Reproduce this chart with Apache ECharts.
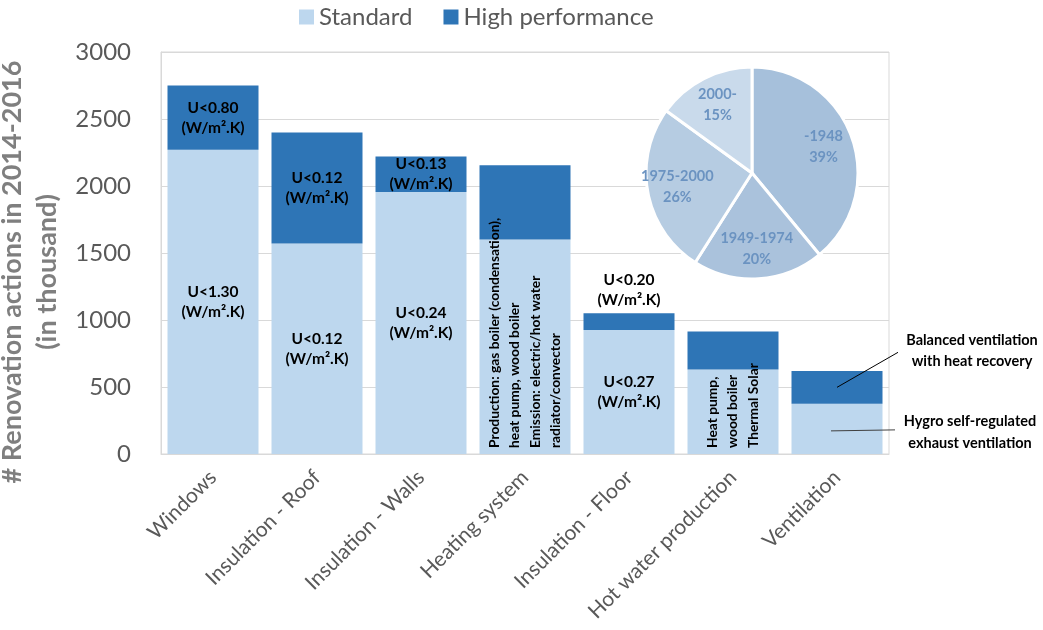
<!DOCTYPE html>
<html>
<head>
<meta charset="utf-8">
<script src="https://cdn.jsdelivr.net/npm/echarts@6/dist/echarts.min.js"></script>
<style>
  html, body { margin: 0; padding: 0; background: #fff; }
  #chart { width: 1043px; height: 630px; }
</style>
</head>
<body>
<div id="chart"></div>
<script>
// Data
const categories = ['Windows', 'Insulation - Roof', 'Insulation - Walls', 'Heating system',
    'Insulation - Floor', 'Hot water production', 'Ventilation'];
const standardValues = [2270, 1570, 1955, 1600, 925, 630, 375];
const highValues = [480, 830, 265, 555, 125, 285, 245];
const standardNotes = ['U<1.30\n(W/m².K)', 'U<0.12\n(W/m².K)', 'U<0.24\n(W/m².K)',
    'Production: gas boiler (condensation),\nheat pump, wood boiler\nEmission: electric/hot water\nradiator/convector',
    'U<0.27\n(W/m².K)', 'Heat pump,\nwood boiler\nThermal Solar', 'Hygro self-regulated\nexhaust ventilation'];
const highNotes = ['U<0.80\n(W/m².K)', 'U<0.12\n(W/m².K)', 'U<0.13\n(W/m².K)', '',
    'U<0.20\n(W/m².K)', '', 'Balanced ventilation\nwith heat recovery'];
const periodNames = ['-1948', '1949-1974', '1975-2000', '2000-'];
const periodShares = [39, 20, 26, 15];

const FONT = 'Lato';
const noteStyle = { fontFamily: FONT, fontWeight: 'bold', fontSize: 15.5, color: '#000', lineHeight: 20 };

// notes written vertically from the bar bottom
const verticalNote = {
    position: 'insideBottom', rotate: 90, align: 'left', verticalAlign: 'middle',
    distance: 6, lineHeight: 20.5, fontSize: 13.8
};

const standardData = standardValues.map((v, i) => {
    let label = { show: true, formatter: standardNotes[i] };
    if (i === 3 || i === 5) Object.assign(label, verticalNote);
    if (i === 6) Object.assign(label, { position: 'inside', offset: [133, 3], lineHeight: 22, fontSize: 14.5 });
    return { value: v, label: label };
});

const highData = highValues.map((v, i) => {
    let label = { show: highNotes[i] !== '', formatter: highNotes[i] };
    if (i === 4) Object.assign(label, { position: 'top', distance: 3, lineHeight: 20 });
    if (i === 6) Object.assign(label, { position: 'inside', offset: [135, -37], lineHeight: 21, fontSize: 14.5 });
    return { value: v, label: label };
});

const pieColors = ['#A6C0DB', '#AAC2DC', '#B6CCE2', '#C9DAEB'];

const chart = echarts.init(document.getElementById('chart'));

const option = {
    animation: false,
    textStyle: { fontFamily: FONT },
    legend: {
        left: 294, top: 0,
        itemWidth: 15, itemHeight: 15, itemGap: 31,
        icon: 'rect',
        textStyle: { fontSize: 24, color: '#595959', fontFamily: FONT },
        data: ['Standard', 'High performance']
    },
    grid: {
        left: 161, right: 154, top: 52, bottom: 176,
        outerBoundsMode: 'none',
        show: true, borderColor: '#D9D9D9', borderWidth: 1
    },
    xAxis: {
        type: 'category',
        data: categories,
        axisLine: { lineStyle: { color: '#D9D9D9' } },
        axisTick: { show: false },
        axisLabel: {
            rotate: 45, interval: 0, margin: 20,
            fontSize: 21, color: '#595959', fontFamily: FONT
        }
    },
    yAxis: {
        type: 'value',
        min: 0, max: 3000, interval: 500,
        name: '# Renovation actions in 2014-2016\n(in thousand)',
        nameLocation: 'middle',
        nameGap: 92,
        nameTextStyle: {
            fontSize: 27, fontWeight: 'bold', color: '#7F7F7F', lineHeight: 35,
            fontFamily: FONT, padding: [0, 38, 0, 0]
        },
        axisLine: { show: true, lineStyle: { color: '#D9D9D9' } },
        axisLabel: {
            fontSize: 24, color: '#595959', margin: 30, fontFamily: FONT,
            formatter: value => String(value)
        },
        splitLine: { lineStyle: { color: '#D9D9D9' } }
    },
    series: [
        {
            name: 'Standard', type: 'bar', stack: 'all',
            barCategoryGap: '12.5%',
            itemStyle: { color: '#BDD7EE' },
            label: noteStyle,
            data: standardData
        },
        {
            name: 'High performance', type: 'bar', stack: 'all',
            barCategoryGap: '12.5%',
            itemStyle: { color: '#2E75B6' },
            label: noteStyle,
            data: highData
        },
        {
            // construction period pie
            type: 'pie', silent: true,
            center: [752, 173], radius: 106,
            startAngle: 90, clockwise: true,
            label: { show: false },
            itemStyle: { borderColor: '#fff', borderWidth: 3 },
            data: periodNames.map((n, i) => ({ name: n, value: periodShares[i], itemStyle: { color: pieColors[i] } }))
        },
        {
            // pie labels only, on a ring so they sit further out
            type: 'pie', silent: true,
            center: [752, 173], radius: [40, 106],
            startAngle: 90, clockwise: true,
            itemStyle: { color: 'rgba(0,0,0,0)' },
            label: {
                show: true, position: 'inside',
                formatter: '{b}\n{d}%',
                fontFamily: FONT, fontWeight: 'bold', fontSize: 14.5, lineHeight: 21,
                color: '#6B93C1'
            },
            data: periodNames.map((n, i) => ({ name: n, value: periodShares[i] }))
        }
    ]
};

chart.setOption(option);

// connector lines for the ventilation notes
const v = categories.length - 1;
const pHigh = chart.convertToPixel({ gridIndex: 0 }, [v, standardValues[v] + highValues[v] / 2]);
const pStd = chart.convertToPixel({ gridIndex: 0 }, [v, standardValues[v] / 2]);
chart.setOption({
    graphic: [
        {
            type: 'line', z: 100,
            shape: { x1: pHigh[0], y1: pHigh[1], x2: pHigh[0] + 61, y2: pHigh[1] - 35 },
            style: { stroke: '#000', lineWidth: 1 }
        },
        {
            type: 'line', z: 100,
            shape: { x1: pStd[0] - 6, y1: pStd[1] + 2, x2: pStd[0] + 58, y2: pStd[1] + 1 },
            style: { stroke: '#404040', lineWidth: 1 }
        }
    ]
});
</script>
</body>
</html>
